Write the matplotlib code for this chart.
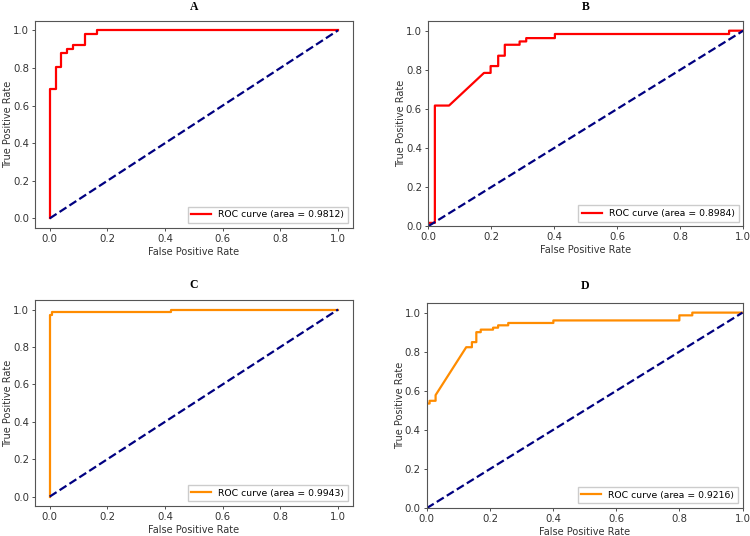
import matplotlib
matplotlib.use("Agg")
import matplotlib.pyplot as plt

# Panel A
fpr_a = [0.0, 0.0, 0.0204, 0.0204, 0.0408, 0.0408, 0.0612, 0.0612, 0.0816, 0.0816, 0.1224, 0.1224, 0.1633, 0.1633, 1.0]
tpr_a = [0.0, 0.686, 0.686, 0.804, 0.804, 0.882, 0.882, 0.902, 0.902, 0.922, 0.922, 0.980, 0.980, 1.0, 1.0]
auc_a = 0.9812

# Panel B
fpr_b = [0.0, 0.0, 0.021, 0.021, 0.066, 0.177, 0.198, 0.198, 0.222, 0.222, 0.243, 0.243, 0.290, 0.290, 0.311, 0.311, 0.402, 0.402, 0.955, 0.955, 1.0]
tpr_b = [0.0, 0.017, 0.017, 0.617, 0.617, 0.784, 0.784, 0.819, 0.819, 0.872, 0.872, 0.928, 0.928, 0.945, 0.945, 0.962, 0.962, 0.983, 0.983, 1.0, 1.0]
auc_b = 0.8984

# Panel C
fpr_c = [0.0, 0.0, 0.009, 0.009, 0.421, 0.421, 1.0]
tpr_c = [0.0, 0.973, 0.973, 0.989, 0.989, 1.0, 1.0]
auc_c = 0.9943

# Panel D
fpr_d = [0.0, 0.0, 0.009, 0.009, 0.028, 0.028, 0.125, 0.143, 0.143, 0.157, 0.157, 0.171, 0.171, 0.210, 0.210, 0.226, 0.226, 0.258, 0.258, 0.401, 0.401, 0.800, 0.800, 0.841, 0.841, 1.0]
tpr_d = [0.0, 0.535, 0.535, 0.549, 0.549, 0.578, 0.823, 0.823, 0.849, 0.849, 0.900, 0.900, 0.913, 0.913, 0.923, 0.923, 0.935, 0.935, 0.947, 0.947, 0.960, 0.960, 0.986, 0.986, 1.0, 1.0]
auc_d = 0.9216

panels = [
    ("A", fpr_a, tpr_a, auc_a, "red", [0.047, 0.575, 0.423, 0.386], False, 8),
    ("B", fpr_b, tpr_b, auc_b, "red", [0.571, 0.578, 0.420, 0.383], True, 8),
    ("C", fpr_c, tpr_c, auc_c, "darkorange", [0.047, 0.056, 0.423, 0.384], False, 9),
    ("D", fpr_d, tpr_d, auc_d, "darkorange", [0.569, 0.052, 0.421, 0.383], True, 10),
]

fig = plt.figure(figsize=(7.5, 5.36), dpi=100)
for title, fpr, tpr, auc, color, rect, tight, tpad in panels:
    ax = fig.add_axes(rect)
    ax.plot(fpr, tpr, color=color, lw=1.6, label="ROC curve (area = %0.4f)" % auc)
    ax.plot([0, 1], [0, 1], color="navy", lw=1.6, linestyle="--")
    if tight:
        ax.set_xlim(0.0, 1.0)
        ax.set_ylim(0.0, 1.05)
    ax.set_xlabel("False Positive Rate", fontsize=7, labelpad=2, color="#333333")
    ax.set_ylabel("True Positive Rate", fontsize=7, color="#333333")
    ax.yaxis.set_label_coords(-0.07, 0.5)
    ax.tick_params(labelsize=7.3, length=2.5, width=0.6, pad=2, colors="#333333")
    for s in ax.spines.values():
        s.set_color("#555555")
        s.set_linewidth(0.8)
    ax.set_title(title, fontsize=8.5, fontweight="bold", family="Liberation Serif", pad=tpad)
    ax.legend(loc="lower right", fontsize=6.7, handlelength=2.1, fancybox=False, framealpha=1, edgecolor="#cccccc")

fig.savefig("out.png", dpi=100)
